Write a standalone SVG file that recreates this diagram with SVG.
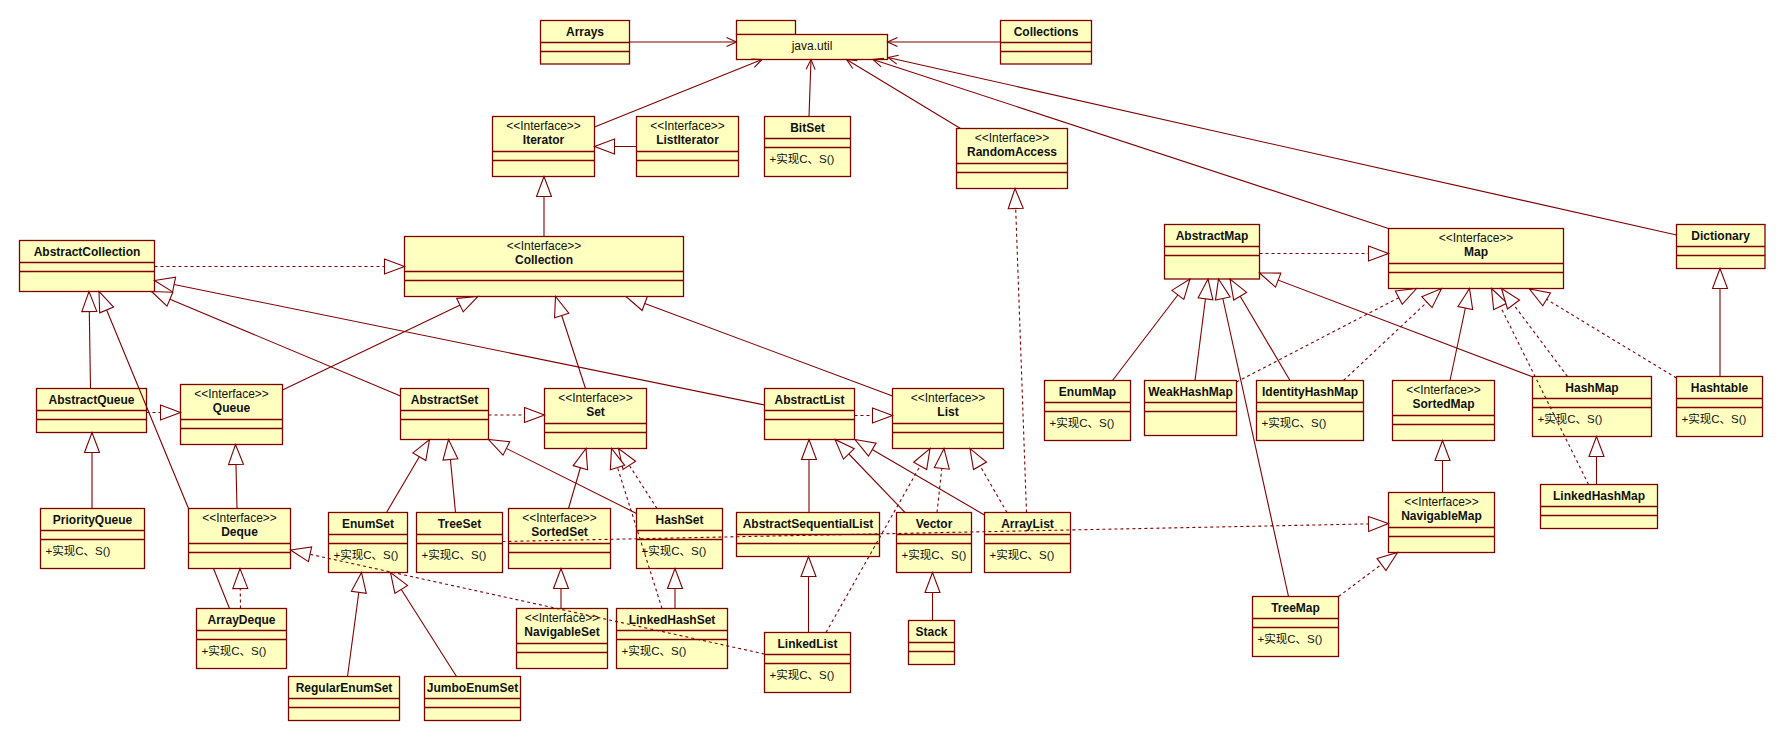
<svg xmlns="http://www.w3.org/2000/svg" width="1785" height="741" viewBox="0 0 1785 741">
<style>
.box{fill:#FFFFC0;stroke:#800000;stroke-width:1.3}
.dv{stroke:#800000;stroke-width:1.3;fill:none}
.nm{font-family:"Liberation Sans",Arial,sans-serif;font-weight:bold;font-size:12px;text-anchor:middle;fill:#111}
.st{font-family:"Liberation Sans",Arial,sans-serif;font-size:12px;text-anchor:middle;fill:#111}
.at{font-family:"Liberation Sans","Noto Sans CJK SC",sans-serif;font-size:11.5px;fill:#111}
.gen{stroke:#800000;stroke-width:1.1;fill:none;marker-end:url(#tri)}
.real{stroke:#800000;stroke-width:1.1;fill:none;stroke-dasharray:3 3;marker-end:url(#tri)}
.dep{stroke:#800000;stroke-width:1.1;fill:none;marker-end:url(#arr)}
</style>
<defs>
<marker id="tri" markerUnits="userSpaceOnUse" markerWidth="22" markerHeight="17" viewBox="0 0 22 17" refX="21" refY="8.5" orient="auto" overflow="visible"><path d="M1,1 L21,8.5 L1,16 Z" fill="#fff" stroke="#800000" stroke-width="1.1"/></marker>
<marker id="arr" markerUnits="userSpaceOnUse" markerWidth="12" markerHeight="11" viewBox="0 0 12 11" refX="11" refY="5.5" orient="auto" overflow="visible"><path d="M1,1 L11,5.5 L1,10" fill="none" stroke="#800000" stroke-width="1.1"/></marker>
</defs>
<rect width="1785" height="741" fill="#fff"/>

<g id="nodes">
<g id="java-util"><rect class="box" x="736.5" y="20.5" width="59" height="14"/><rect class="box" x="736.5" y="34.5" width="151" height="25"/><text class="st" x="812" y="50">java.util</text></g>

<g id="Arrays"><rect class="box" x="540.5" y="20.5" width="89" height="43.5"/><path class="dv" d="M540.5,42.5H629.5M540.5,51.5H629.5"/><text class="nm" x="585" y="35.5">Arrays</text></g>
<g id="Collections"><rect class="box" x="1000.5" y="20.5" width="91" height="43.5"/><path class="dv" d="M1000.5,42.5H1091.5M1000.5,51.5H1091.5"/><text class="nm" x="1046" y="35.5">Collections</text></g>
<g id="AbstractCollection"><rect class="box" x="19.5" y="240.5" width="135" height="51"/><path class="dv" d="M19.5,262.5H154.5M19.5,271.5H154.5"/><text class="nm" x="87" y="255.5">AbstractCollection</text></g>
<g id="AbstractMap"><rect class="box" x="1164.5" y="224.5" width="95" height="54.5"/><path class="dv" d="M1164.5,246.5H1259.5M1164.5,255.5H1259.5"/><text class="nm" x="1212" y="239.5">AbstractMap</text></g>
<g id="Dictionary"><rect class="box" x="1676.5" y="224.5" width="88.5" height="44"/><path class="dv" d="M1676.5,246.5H1765M1676.5,255.5H1765"/><text class="nm" x="1720.7" y="239.5">Dictionary</text></g>
<g id="AbstractQueue"><rect class="box" x="36.5" y="388.5" width="110" height="44"/><path class="dv" d="M36.5,410.5H146.5M36.5,419.5H146.5"/><text class="nm" x="91.5" y="403.5">AbstractQueue</text></g>
<g id="AbstractSet"><rect class="box" x="400.5" y="388.5" width="88" height="51"/><path class="dv" d="M400.5,410.5H488.5M400.5,419.5H488.5"/><text class="nm" x="444.5" y="403.5">AbstractSet</text></g>
<g id="AbstractList"><rect class="box" x="764.5" y="388.5" width="90" height="51"/><path class="dv" d="M764.5,410.5H854.5M764.5,419.5H854.5"/><text class="nm" x="809.5" y="403.5">AbstractList</text></g>
<g id="WeakHashMap"><rect class="box" x="1144.5" y="380.5" width="92" height="55"/><path class="dv" d="M1144.5,402.5H1236.5M1144.5,411.5H1236.5"/><text class="nm" x="1190.5" y="395.5">WeakHashMap</text></g>
<g id="AbstractSequentialList"><rect class="box" x="736.5" y="512.5" width="143" height="44"/><path class="dv" d="M736.5,534.5H879.5M736.5,543.5H879.5"/><text class="nm" x="808" y="527.5">AbstractSequentialList</text></g>
<g id="RegularEnumSet"><rect class="box" x="288.5" y="676.5" width="111" height="44"/><path class="dv" d="M288.5,698.5H399.5M288.5,707.5H399.5"/><text class="nm" x="344" y="691.5">RegularEnumSet</text></g>
<g id="JumboEnumSet"><rect class="box" x="424.5" y="676.5" width="96" height="44"/><path class="dv" d="M424.5,698.5H520.5M424.5,707.5H520.5"/><text class="nm" x="472.5" y="691.5">JumboEnumSet</text></g>
<g id="Stack"><rect class="box" x="908.5" y="620.5" width="46" height="44"/><path class="dv" d="M908.5,642.5H954.5M908.5,651.5H954.5"/><text class="nm" x="931.5" y="635.5">Stack</text></g>
<g id="LinkedHashMap"><rect class="box" x="1540.5" y="484.5" width="117" height="44"/><path class="dv" d="M1540.5,506.5H1657.5M1540.5,515.5H1657.5"/><text class="nm" x="1599" y="499.5">LinkedHashMap</text></g>

<g id="BitSet"><rect class="box" x="764.5" y="116.5" width="86" height="60"/><path class="dv" d="M764.5,138.5H850.5M764.5,147.5H850.5"/><text class="nm" x="807.5" y="131.5">BitSet</text><text class="at" x="769.5" y="162.5">+实现C、S()</text></g>
<g id="EnumMap"><rect class="box" x="1044.5" y="380.5" width="86" height="60"/><path class="dv" d="M1044.5,402.5H1130.5M1044.5,411.5H1130.5"/><text class="nm" x="1087.5" y="395.5">EnumMap</text><text class="at" x="1049.5" y="426.5">+实现C、S()</text></g>
<g id="IdentityHashMap"><rect class="box" x="1256.5" y="380.5" width="107" height="60"/><path class="dv" d="M1256.5,402.5H1363.5M1256.5,411.5H1363.5"/><text class="nm" x="1310" y="395.5">IdentityHashMap</text><text class="at" x="1261.5" y="426.5">+实现C、S()</text></g>
<g id="HashMap"><rect class="box" x="1532.5" y="376.5" width="119" height="60"/><path class="dv" d="M1532.5,398.5H1651.5M1532.5,407.5H1651.5"/><text class="nm" x="1592" y="391.5">HashMap</text><text class="at" x="1537.5" y="422.5">+实现C、S()</text></g>
<g id="Hashtable"><rect class="box" x="1676.5" y="376.5" width="86" height="60"/><path class="dv" d="M1676.5,398.5H1762.5M1676.5,407.5H1762.5"/><text class="nm" x="1719.5" y="391.5">Hashtable</text><text class="at" x="1681.5" y="422.5">+实现C、S()</text></g>
<g id="PriorityQueue"><rect class="box" x="40.5" y="508.5" width="104" height="60"/><path class="dv" d="M40.5,530.5H144.5M40.5,539.5H144.5"/><text class="nm" x="92.5" y="523.5">PriorityQueue</text><text class="at" x="45.5" y="554.5">+实现C、S()</text></g>
<g id="EnumSet"><rect class="box" x="328.5" y="512.5" width="79" height="60"/><path class="dv" d="M328.5,534.5H407.5M328.5,543.5H407.5"/><text class="nm" x="368" y="527.5">EnumSet</text><text class="at" x="333.5" y="558.5">+实现C、S()</text></g>
<g id="TreeSet"><rect class="box" x="416.5" y="512.5" width="86" height="60"/><path class="dv" d="M416.5,534.5H502.5M416.5,543.5H502.5"/><text class="nm" x="459.5" y="527.5">TreeSet</text><text class="at" x="421.5" y="558.5">+实现C、S()</text></g>
<g id="HashSet"><rect class="box" x="636.5" y="508.5" width="86" height="60"/><path class="dv" d="M636.5,530.5H722.5M636.5,539.5H722.5"/><text class="nm" x="679.5" y="523.5">HashSet</text><text class="at" x="641.5" y="554.5">+实现C、S()</text></g>
<g id="Vector"><rect class="box" x="896.5" y="512.5" width="75" height="60"/><path class="dv" d="M896.5,534.5H971.5M896.5,543.5H971.5"/><text class="nm" x="934" y="527.5">Vector</text><text class="at" x="901.5" y="558.5">+实现C、S()</text></g>
<g id="ArrayList"><rect class="box" x="984.5" y="512.5" width="86" height="60"/><path class="dv" d="M984.5,534.5H1070.5M984.5,543.5H1070.5"/><text class="nm" x="1027.5" y="527.5">ArrayList</text><text class="at" x="989.5" y="558.5">+实现C、S()</text></g>
<g id="ArrayDeque"><rect class="box" x="196.5" y="608.5" width="90" height="60"/><path class="dv" d="M196.5,630.5H286.5M196.5,639.5H286.5"/><text class="nm" x="241.5" y="623.5">ArrayDeque</text><text class="at" x="201.5" y="654.5">+实现C、S()</text></g>
<g id="LinkedHashSet"><rect class="box" x="616.5" y="608.5" width="111" height="60"/><path class="dv" d="M616.5,630.5H727.5M616.5,639.5H727.5"/><text class="nm" x="672" y="623.5">LinkedHashSet</text><text class="at" x="621.5" y="654.5">+实现C、S()</text></g>
<g id="LinkedList"><rect class="box" x="764.5" y="632.5" width="86" height="60"/><path class="dv" d="M764.5,654.5H850.5M764.5,663.5H850.5"/><text class="nm" x="807.5" y="647.5">LinkedList</text><text class="at" x="769.5" y="678.5">+实现C、S()</text></g>
<g id="TreeMap"><rect class="box" x="1252.5" y="596.5" width="86" height="60"/><path class="dv" d="M1252.5,618.5H1338.5M1252.5,627.5H1338.5"/><text class="nm" x="1295.5" y="611.5">TreeMap</text><text class="at" x="1257.5" y="642.5">+实现C、S()</text></g>

<g id="Iterator"><rect class="box" x="492.5" y="116.5" width="102" height="60"/><path class="dv" d="M492.5,151.5H594.5M492.5,160.5H594.5"/><text class="st" x="543.5" y="130">&lt;&lt;Interface&gt;&gt;</text><text class="nm" x="543.5" y="144">Iterator</text></g>
<g id="ListIterator"><rect class="box" x="636.5" y="116.5" width="102" height="60"/><path class="dv" d="M636.5,151.5H738.5M636.5,160.5H738.5"/><text class="st" x="687.5" y="130">&lt;&lt;Interface&gt;&gt;</text><text class="nm" x="687.5" y="144">ListIterator</text></g>
<g id="RandomAccess"><rect class="box" x="956.5" y="128.5" width="111" height="60"/><path class="dv" d="M956.5,163.5H1067.5M956.5,172.5H1067.5"/><text class="st" x="1012" y="142">&lt;&lt;Interface&gt;&gt;</text><text class="nm" x="1012" y="156">RandomAccess</text></g>
<g id="Collection"><rect class="box" x="404.5" y="236.5" width="279" height="60"/><path class="dv" d="M404.5,271.5H683.5M404.5,280.5H683.5"/><text class="st" x="544" y="250">&lt;&lt;Interface&gt;&gt;</text><text class="nm" x="544" y="264">Collection</text></g>
<g id="Map"><rect class="box" x="1388.5" y="228.5" width="175" height="60"/><path class="dv" d="M1388.5,263.5H1563.5M1388.5,272.5H1563.5"/><text class="st" x="1476" y="242">&lt;&lt;Interface&gt;&gt;</text><text class="nm" x="1476" y="256">Map</text></g>
<g id="Queue"><rect class="box" x="180.5" y="384.5" width="102" height="60"/><path class="dv" d="M180.5,419.5H282.5M180.5,428.5H282.5"/><text class="st" x="231.5" y="398">&lt;&lt;Interface&gt;&gt;</text><text class="nm" x="231.5" y="412">Queue</text></g>
<g id="Set"><rect class="box" x="544.5" y="388.5" width="102" height="60"/><path class="dv" d="M544.5,423.5H646.5M544.5,432.5H646.5"/><text class="st" x="595.5" y="402">&lt;&lt;Interface&gt;&gt;</text><text class="nm" x="595.5" y="416">Set</text></g>
<g id="List"><rect class="box" x="892.5" y="388.5" width="111" height="60"/><path class="dv" d="M892.5,423.5H1003.5M892.5,432.5H1003.5"/><text class="st" x="948" y="402">&lt;&lt;Interface&gt;&gt;</text><text class="nm" x="948" y="416">List</text></g>
<g id="SortedMap"><rect class="box" x="1392.5" y="380.5" width="102" height="60"/><path class="dv" d="M1392.5,415.5H1494.5M1392.5,424.5H1494.5"/><text class="st" x="1443.5" y="394">&lt;&lt;Interface&gt;&gt;</text><text class="nm" x="1443.5" y="408">SortedMap</text></g>
<g id="Deque"><rect class="box" x="188.5" y="508.5" width="102" height="60"/><path class="dv" d="M188.5,543.5H290.5M188.5,552.5H290.5"/><text class="st" x="239.5" y="522">&lt;&lt;Interface&gt;&gt;</text><text class="nm" x="239.5" y="536">Deque</text></g>
<g id="SortedSet"><rect class="box" x="508.5" y="508.5" width="102" height="60"/><path class="dv" d="M508.5,543.5H610.5M508.5,552.5H610.5"/><text class="st" x="559.5" y="522">&lt;&lt;Interface&gt;&gt;</text><text class="nm" x="559.5" y="536">SortedSet</text></g>
<g id="NavigableSet"><rect class="box" x="516.5" y="608.5" width="91" height="60"/><path class="dv" d="M516.5,643.5H607.5M516.5,652.5H607.5"/><text class="st" x="562" y="622">&lt;&lt;Interface&gt;&gt;</text><text class="nm" x="562" y="636">NavigableSet</text></g>
<g id="NavigableMap"><rect class="box" x="1388.5" y="492.5" width="106" height="60"/><path class="dv" d="M1388.5,527.5H1494.5M1388.5,536.5H1494.5"/><text class="st" x="1441.5" y="506">&lt;&lt;Interface&gt;&gt;</text><text class="nm" x="1441.5" y="520">NavigableMap</text></g>
</g>

<g id="connectors">
<path class="dep" d="M629.5,42 L736.5,42"/>
<path class="dep" d="M1000.5,42 L887.5,42"/>
<path class="dep" d="M594.5,127 L762,59.5"/>
<path class="dep" d="M809,116.5 L811,59.5"/>
<path class="dep" d="M960.5,128.5 L846.5,59.5"/>
<path class="dep" d="M1388.5,228.5 L873,59.5"/>
<path class="dep" d="M1676.5,235 L888,57.5"/>

<path class="gen" d="M636.5,146.5 L594.5,146.5"/>
<path class="gen" d="M544,236.5 L544,176.5"/>
<path class="gen" d="M90.5,388.5 L89,291.5"/>
<path class="gen" d="M229.5,608.5 L213.5,568.5 M188.5,508.5 L99,291.5"/>
<path class="gen" d="M400.5,396 L151.5,291.5"/>
<path class="gen" d="M764.5,405 L154.5,280.5"/>
<path class="gen" d="M282.5,390 L478,296.5"/>
<path class="gen" d="M585.5,388.5 L555.5,296.5"/>
<path class="gen" d="M892.5,396 L626,296.5"/>
<path class="gen" d="M92,508.5 L92,432.5"/>
<path class="gen" d="M237,508.5 L235.5,444.5"/>
<path class="gen" d="M386.5,512.5 L429.5,439.5"/>
<path class="gen" d="M455.5,512.5 L448.5,439.5"/>
<path class="gen" d="M636.5,513.5 L488.5,439.5"/>
<path class="gen" d="M568.5,508.5 L586,448.5"/>
<path class="gen" d="M561,608.5 L561,568.5"/>
<path class="gen" d="M347.5,676.5 L361.5,572.5"/>
<path class="gen" d="M456.5,676.5 L390.5,572.5"/>
<path class="gen" d="M675,608.5 L675,568.5"/>
<path class="gen" d="M809,512.5 L809,439.5"/>
<path class="gen" d="M905,512.5 L835,439.5"/>
<path class="gen" d="M984.5,515 L855,439.5"/>
<path class="gen" d="M808.5,632.5 L808.5,556.5"/>
<path class="gen" d="M932.5,620.5 L932.5,572.5"/>
<path class="gen" d="M1112.5,380.5 L1190,279"/>
<path class="gen" d="M1195,380.5 L1208,279"/>
<path class="gen" d="M1288.5,596.5 L1218.5,279"/>
<path class="gen" d="M1290,380.5 L1230,279"/>
<path class="gen" d="M1533,377 L1259.5,273"/>
<path class="gen" d="M1450,380.5 L1469.5,288.5"/>
<path class="gen" d="M1442.5,492.5 L1442.5,440.5"/>
<path class="gen" d="M1720,376.5 L1720,268.5"/>
<path class="gen" d="M1596.5,484.5 L1596.5,436.5"/>

<path class="real" d="M154.5,266.5 L404.5,266.5"/>
<path class="real" d="M146.5,412.5 L180.5,412.5"/>
<path class="real" d="M488.5,415 L544.5,415"/>
<path class="real" d="M854.5,415.5 L892.5,415.5"/>
<path class="real" d="M1259.5,253.5 L1388.5,253.5"/>
<path class="real" d="M240.5,608.5 L240,568.5"/>
<path class="real" d="M764.5,654 L290.5,550"/>
<path class="real" d="M502.5,541.5 L1388.5,523.5"/>
<path class="real" d="M657,508.5 L618.5,448.5"/>
<path class="real" d="M662,608.5 L611.5,448.5"/>
<path class="real" d="M826,632.5 L930,448.5"/>
<path class="real" d="M937,512.5 L944,448.5"/>
<path class="real" d="M1007,512.5 L970,448.5"/>
<path class="real" d="M1026.5,512.5 L1015,188.5"/>
<path class="real" d="M1236.5,382 L1416.5,288.5"/>
<path class="real" d="M1343.5,380.5 L1441.5,288.5"/>
<path class="real" d="M1588.5,484.5 L1491.5,288.5"/>
<path class="real" d="M1567.5,376.5 L1501.5,288.5"/>
<path class="real" d="M1676.5,378 L1529.5,289"/>
<path class="real" d="M1338.5,596.5 L1397.5,552.5"/>
</g>
</svg>
